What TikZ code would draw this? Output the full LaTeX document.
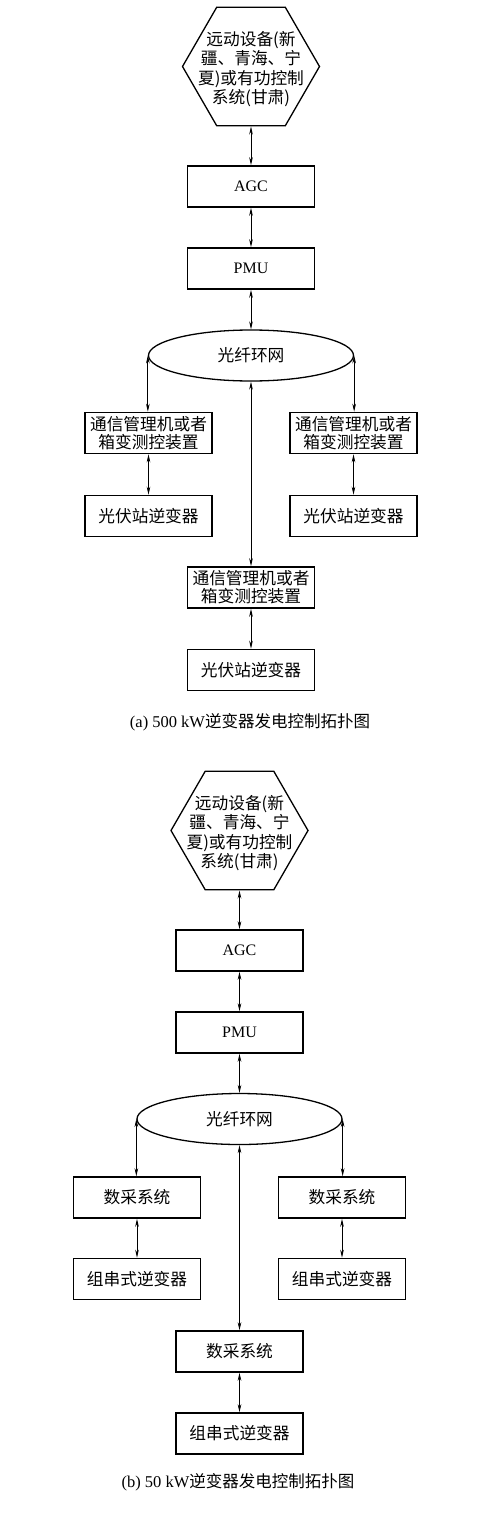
\documentclass[tikz,border=0pt]{standalone}
\usepackage{fontspec}
\setmainfont{Liberation Serif}
\newfontfamily\cjk{Noto Sans CJK SC}
\usetikzlibrary{arrows.meta,shapes.geometric}
\tikzset{
  box/.style={draw, line width=1.6pt, minimum width=127pt, minimum height=41pt, inner sep=0pt, align=center, font=\cjk\fontsize{16.7}{18}\selectfont},
  lbox/.style={box, font=\fontsize{16}{18}\selectfont},
  ring/.style={ellipse, draw, line width=1.3pt, minimum width=205pt, minimum height=51pt, inner sep=0pt, font=\cjk\fontsize{16.7}{18}\selectfont},
  hexa/.style={regular polygon, regular polygon sides=6, minimum size=137pt, inner sep=0pt, draw, line width=1.3pt},
  hextext/.style={align=center, inner sep=0pt, font=\cjk\fontsize{16.7}{19.4}\selectfont},
  link/.style={line width=0.8pt, {Stealth[length=8pt,width=3.6pt]}-{Stealth[length=8pt,width=3.6pt]}},
  captext/.style={inner sep=0pt, font=\fontsize{16.5}{18}\selectfont}
}
\begin{document}
\begin{tikzpicture}[x=1pt,y=-1pt]
\useasboundingbox[fill=white] (0,0) rectangle (496,1522);
% ---------- (a) ----------
\node[hexa] (ahex) at (251,66.5) {};
\node[hextext] (ahext) at (251,69) {远动设备(新\\疆、青海、宁\\夏)或有功控制\\系统(甘肃)};
\node[lbox] (aagc) at (251,186.5) {AGC};
\node[lbox] (apmu) at (251,268.5) {PMU};
\node[ring] (aell) at (251,355.5) {光纤环网};
\node[box] (al1) at (148.5,433) {通信管理机或者\\箱变测控装置};
\node[box] (ar1) at (353.5,433) {通信管理机或者\\箱变测控装置};
\node[box] (al2) at (148.5,516) {光伏站逆变器};
\node[box] (ar2) at (353.5,516) {光伏站逆变器};
\node[box] (ac1) at (251,587.5) {通信管理机或者\\箱变测控装置};
\node[box] (ac2) at (251,670) {光伏站逆变器};
\node[captext] (acap) at (250,722) {(a) 500 kW{\cjk 逆变器发电控制拓扑图}};
\draw[link] (ahex.south) -- (aagc.north);
\draw[link] (aagc.south) -- (apmu.north);
\draw[link] (apmu.south) -- (aell.north);
\draw[link] (aell.west) -- (aell.west |- al1.north);
\draw[link] (aell.east) -- (aell.east |- ar1.north);
\draw[link] (al1.south) -- (al2.north);
\draw[link] (ar1.south) -- (ar2.north);
\draw[link] (aell.south) -- (ac1.north);
\draw[link] (ac1.south) -- (ac2.north);
% ---------- (b) ----------
\node[hexa] (bhex) at (239.5,830.5) {};
\node[hextext] (bhext) at (239.5,833) {远动设备(新\\疆、青海、宁\\夏)或有功控制\\系统(甘肃)};
\node[lbox] (bagc) at (239.5,950.5) {AGC};
\node[lbox] (bpmu) at (239.5,1032.5) {PMU};
\node[ring] (bell) at (239.5,1119) {光纤环网};
\node[box] (bl1) at (137,1197.5) {数采系统};
\node[box] (br1) at (342,1197.5) {数采系统};
\node[box] (bl2) at (137,1279) {组串式逆变器};
\node[box] (br2) at (342,1279) {组串式逆变器};
\node[box] (bc1) at (239.5,1351.5) {数采系统};
\node[box] (bc2) at (239.5,1433.5) {组串式逆变器};
\node[captext] (bcap) at (238,1482) {(b) 50 kW{\cjk 逆变器发电控制拓扑图}};
\draw[link] (bhex.south) -- (bagc.north);
\draw[link] (bagc.south) -- (bpmu.north);
\draw[link] (bpmu.south) -- (bell.north);
\draw[link] (bell.west) -- (bell.west |- bl1.north);
\draw[link] (bell.east) -- (bell.east |- br1.north);
\draw[link] (bl1.south) -- (bl2.north);
\draw[link] (br1.south) -- (br2.north);
\draw[link] (bell.south) -- (bc1.north);
\draw[link] (bc1.south) -- (bc2.north);
\end{tikzpicture}
\end{document}
